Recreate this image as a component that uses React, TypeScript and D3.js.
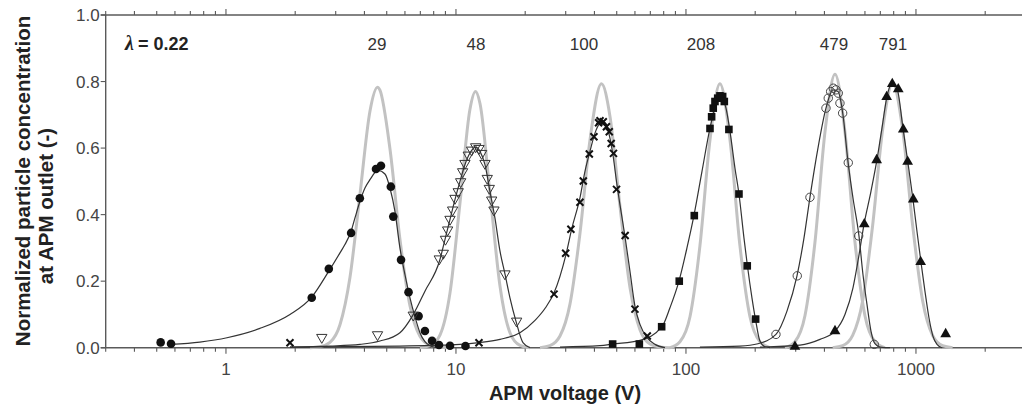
import React from 'react';
import * as d3 from 'd3';

type P = [number, number];

// ---------- axis / label data ----------
const xDomain: P = [0.3, 3000];
const yDomain: P = [0, 1];
const yTickValues = [0, 0.2, 0.4, 0.6, 0.8, 1.0];
const xTickLabelValues = [1, 10, 100, 1000];
const peakLabels = ['29', '48', '100', '208', '479', '791'];
const peakLabelVoltages = [4.535, 12.22, 36.0, 116.2, 440, 794];
const lambdaText = '= 0.22';
const xTitle = 'APM voltage (V)';
const yTitle1 = 'Normalized particle concentration';
const yTitle2 = 'at APM outlet (-)';

// ---------- measured points (voltage, normalized concentration) ----------
const s29: P[] = [[0.52,0.016],[0.577,0.012],[2.36,0.150],[2.80,0.237],[3.50,0.345],[3.82,0.449],[4.49,0.537],[4.72,0.547],[5.21,0.484],[5.34,0.394],[5.77,0.264],[6.22,0.167],[6.88,0.095],[7.33,0.050],[7.87,0.021],[8.44,0.008],[9.42,0.006],[11.0,0.005]];
const s48: P[] = [[2.61,0.031],[4.56,0.039],[6.52,0.098],[8.46,0.267],[8.81,0.284],[9.00,0.326],[9.20,0.354],[9.42,0.386],[9.67,0.414],[9.90,0.449],[10.23,0.469],[10.48,0.499],[10.69,0.529],[10.94,0.554],[11.31,0.579],[11.70,0.594],[12.18,0.604],[12.59,0.599],[12.93,0.584],[13.37,0.554],[13.68,0.509],[13.96,0.479],[14.30,0.444],[14.63,0.414],[16.33,0.222],[18.36,0.080]];
const s100: P[] = [[1.898,0.015],[12.59,0.015],[26.7,0.161],[29.99,0.284],[31.6,0.356],[34.6,0.437],[35.78,0.501],[38.0,0.582],[39.8,0.634],[41.7,0.676],[42.3,0.682],[43.7,0.679],[45.1,0.664],[46.4,0.649],[47.3,0.614],[48.4,0.584],[49.9,0.476],[54.4,0.337],[60.0,0.116],[67.9,0.035]];
const s208: P[] = [[48.0,0.011],[62.7,0.011],[78.4,0.063],[93.5,0.20],[108.7,0.397],[127.2,0.659],[129.3,0.694],[131.4,0.72],[133.7,0.74],[137.4,0.75],[140.5,0.757],[144.4,0.755],[146.8,0.74],[153.7,0.656],[170.0,0.462],[184.7,0.246],[200.9,0.086]];
const s479: P[] = [[246.2,0.040],[304.7,0.216],[346.0,0.452],[406.2,0.72],[415.6,0.75],[425.7,0.77],[437.0,0.78],[449.0,0.775],[459.5,0.765],[467.2,0.735],[480.0,0.705],[507.8,0.556],[563.5,0.336],[658.7,0.010]];
const s791: P[] = [[297.8,0.003],[444.6,0.050],[596.1,0.371],[674.8,0.564],[745.8,0.754],[788.9,0.793],[837.5,0.777],[880.7,0.656],[920.2,0.559],[973.4,0.446],[1048,0.258],[1346,0.041]];

// ---------- fitted curves (black) ----------
const fit29: P[] = [[0.577,0.010],[0.770,0.017],[1.01,0.030],[1.405,0.058],[1.898,0.100],[2.36,0.152],[2.80,0.230],[3.131,0.285],[3.29,0.31],[3.50,0.35],[3.638,0.39],[3.825,0.44],[4.021,0.48],[4.227,0.505],[4.58,0.533],[4.912,0.522],[5.164,0.48],[5.429,0.41],[5.707,0.30],[6.000,0.22],[6.310,0.15],[6.633,0.093],[6.973,0.045],[7.331,0.018],[7.709,0.006],[8.268,0]];
const fit48: P[] = [[1.898,0.002],[2.833,0.005],[3.825,0.01],[4.672,0.02],[5.707,0.045],[6.50,0.098],[7.331,0.17],[8.520,0.265],[8.957,0.325],[9.417,0.385],[9.900,0.445],[10.41,0.50],[10.94,0.55],[11.50,0.585],[12.21,0.603],[12.72,0.59],[13.37,0.55],[14.05,0.47],[14.77,0.39],[15.54,0.29],[16.33,0.222],[17.17,0.15],[18.23,0.08],[19.56,0.015],[20.97,0]];
const fit100: P[] = [[1.898,0.002],[5.707,0.005],[10.41,0.01],[12.59,0.015],[15.54,0.025],[18.98,0.045],[22.06,0.082],[24.5,0.12],[26.7,0.165],[30.08,0.28],[31.94,0.36],[34.60,0.45],[36.38,0.53],[38.25,0.59],[40.21,0.645],[42.27,0.675],[43.56,0.68],[45.34,0.665],[46.72,0.63],[48.14,0.58],[50.11,0.49],[51.64,0.43],[54.29,0.335],[57.07,0.23],[60.0,0.125],[63.10,0.07],[67.68,0.03],[73.31,0.01],[81.05,0]];
const fit208: P[] = [[28.33,0.002],[42.27,0.006],[48.14,0.011],[63.10,0.022],[78.65,0.063],[85.20,0.12],[93.23,0.20],[101.0,0.30],[108.3,0.397],[117.4,0.53],[127.2,0.66],[135.0,0.73],[142.0,0.752],[149.3,0.72],[155.4,0.65],[163.3,0.54],[170.0,0.462],[178.7,0.33],[184.7,0.25],[193.6,0.15],[201.2,0.08],[209.7,0.02],[220.5,0.003],[231.9,0]];
const fit479: P[] = [[115.0,0.002],[171.7,0.005],[205.6,0.012],[246.2,0.04],[274.9,0.11],[303.9,0.216],[326.0,0.33],[346.0,0.452],[374.9,0.60],[406.2,0.72],[435.6,0.775],[458.1,0.77],[481.6,0.70],[506.2,0.56],[532.3,0.45],[565.2,0.336],[588.3,0.22],[612.4,0.13],[637.4,0.05],[663.3,0.012],[697.3,0.002],[770.9,0]];
const fit791: P[] = [[209.7,0.002],[313.1,0.008],[382.5,0.025],[444.6,0.05],[491.3,0.10],[532.3,0.18],[559.5,0.26],[594.2,0.37],[637.4,0.47],[676.8,0.565],[711.6,0.66],[747.9,0.755],[786.5,0.792],[826.7,0.78],[878.1,0.66],[923.1,0.555],[970.5,0.446],[1010,0.35],[1051,0.258],[1094,0.17],[1139,0.09],[1185,0.035],[1234,0.01],[1297,0]];

// ---------- theoretical curves (grey) ----------
const th29: P[] = [[2.319,0],[2.563,0.003],[2.833,0.016],[3.131,0.069],[3.460,0.211],[3.825,0.461],[4.227,0.711],[4.56,0.783],[4.672,0.774],[5.164,0.598],[5.707,0.326],[6.310,0.126],[6.973,0.034],[7.709,0.007],[8.520,0.001],[9.417,0]];
const th48: P[] = [[6.973,0],[7.709,0.006],[8.520,0.038],[9.417,0.164],[10.41,0.435],[11.50,0.716],[12.16,0.770],[12.72,0.734],[14.05,0.467],[15.54,0.185],[17.17,0.045],[18.98,0.007],[20.97,0]];
const th100: P[] = [[23.19,0],[25.63,0.006],[28.33,0.035],[31.31,0.131],[34.60,0.343],[38.25,0.624],[42.92,0.793],[46.72,0.696],[51.64,0.426],[57.07,0.182],[63.10,0.054],[69.73,0.011],[77.09,0.002],[85.20,0]];
const th208: P[] = [[85.20,0],[94.17,0.018],[104.1,0.093],[115.0,0.306],[127.2,0.625],[140.5,0.793],[155.4,0.625],[171.7,0.306],[189.8,0.093],[209.7,0.018],[231.9,0]];
const th479: P[] = [[269.4,0],[297.8,0.018],[329.1,0.096],[363.8,0.317],[402.1,0.648],[444.6,0.822],[491.3,0.648],[543.1,0.317],[600.2,0.096],[663.3,0.018],[733.2,0]];
const th791: P[] = [[434.4,0],[480.2,0.006],[530.6,0.037],[586.5,0.141],[648.2,0.368],[716.4,0.656],[791.8,0.795],[875.1,0.656],[967.2,0.368],[1069,0.141],[1181,0.037],[1306,0.006],[1443,0]];

const theoryCurves = [th29, th48, th100, th208, th479, th791];
const fitCurves = [fit29, fit48, fit100, fit208, fit479, fit791];

const W = 1022;
const H = 408;
const PLOT = { left: 105.7, right: 1025.7, top: 15, bottom: 347.7 };
const AXIS = '#5a5a5a';
const FONT = '"Liberation Sans", Arial, Helvetica, sans-serif';

export default function App() {
  const x = d3.scaleLog().domain(xDomain).range([PLOT.left, PLOT.right]);
  const y = d3.scaleLinear().domain(yDomain).range([PLOT.bottom, PLOT.top]);
  const line = d3.line<P>().x(d => x(d[0])).y(d => y(d[1])).curve(d3.curveMonotoneX);
  const ticks = x.ticks().filter(t => t >= xDomain[0] && t <= xDomain[1]);
  const isMajor = (t: number) => Math.abs(Math.log10(t) - Math.round(Math.log10(t))) < 1e-9;
  const triDown = d3.symbol().type(d3.symbolTriangle).size(46)() as string;
  const triUp = d3.symbol().type(d3.symbolTriangle).size(50)() as string;

  return (
    <svg width={W} height={H} style={{ position: 'fixed', left: 0, top: 0, background: '#fff' }}
      fontFamily={FONT}>
      <rect x={0} y={0} width={W} height={H} fill="#fff" />
      {/* axes */}
      <line x1={PLOT.left - 5} x2={W} y1={y(1)} y2={y(1)} stroke={AXIS} strokeWidth={1.4} />
      <line x1={PLOT.left - 5} x2={W} y1={y(0)} y2={y(0)} stroke={AXIS} strokeWidth={1.4} />
      <line x1={PLOT.left} x2={PLOT.left} y1={y(1)} y2={y(0)} stroke={AXIS} strokeWidth={1.4} />
      {ticks.map((t, i) => (
        <g key={'xt' + i}>
          <line x1={x(t)} x2={x(t)} y1={y(0)} y2={y(0) + (isMajor(t) ? 6 : 4)} stroke={AXIS} strokeWidth={1.1} />
          <line x1={x(t)} x2={x(t)} y1={y(1)} y2={y(1) - (isMajor(t) ? 6 : 4)} stroke={AXIS} strokeWidth={1.1} />
        </g>
      ))}
      {xTickLabelValues.map((t, i) => (
        <text key={'xl' + i} x={x(t)} y={375} textAnchor="middle" fontSize={17} fill="#444">{String(t)}</text>
      ))}
      {yTickValues.map((t, i) => (
        <g key={'yt' + i}>
          <line x1={PLOT.left - 5} x2={PLOT.left} y1={y(t)} y2={y(t)} stroke={AXIS} strokeWidth={1.1} />
          <text x={PLOT.left - 6} y={y(t) + 6} textAnchor="end" fontSize={17} fill="#444">{t.toFixed(1)}</text>
        </g>
      ))}
      {/* titles */}
      <text x={565} y={400} textAnchor="middle" fontSize={20} fontWeight="bold" fill="#222">{xTitle}</text>
      <text transform="translate(29.5,181) rotate(-90)" textAnchor="middle" fontSize={20.5} fontWeight="bold" fill="#222">{yTitle1}</text>
      <text transform="translate(53,206) rotate(-90)" textAnchor="middle" fontSize={20.5} fontWeight="bold" fill="#222">{yTitle2}</text>
      {/* annotations */}
      <text x={125} y={50} fontSize={18} fontWeight="bold" fill="#222">
        <tspan fontFamily='"Liberation Serif", "DejaVu Serif", serif' fontStyle="italic" fontSize={20}>λ</tspan>
        <tspan dx={4}>{lambdaText}</tspan>
      </text>
      {peakLabels.map((l, i) => (
        <text key={'pl' + i} x={x(peakLabelVoltages[i])} y={50} textAnchor="middle" fontSize={17} fill="#333">{l}</text>
      ))}
      {/* theoretical curves */}
      {theoryCurves.map((c, i) => (
        <path key={'th' + i} d={line(c) || ''} fill="none" stroke="#c2c2c2" strokeWidth={3} />
      ))}
      {/* fitted curves */}
      {fitCurves.map((c, i) => (
        <path key={'fit' + i} d={line(c) || ''} fill="none" stroke="#333" strokeWidth={1.2} />
      ))}
      {/* markers */}
      {s29.map((d, i) => <circle key={'a' + i} cx={x(d[0])} cy={y(d[1])} r={4.3} fill="#111" />)}
      {s48.map((d, i) => (
        <path key={'b' + i} d={triDown} transform={`translate(${x(d[0])},${y(d[1])}) rotate(180)`} fill="none" stroke="#333" strokeWidth={1} />
      ))}
      {s100.map((d, i) => (
        <path key={'c' + i} d="M-3.5,-3.5L3.5,3.5M-3.5,3.5L3.5,-3.5" transform={`translate(${x(d[0])},${y(d[1])})`} stroke="#111" strokeWidth={2} fill="none" />
      ))}
      {s208.map((d, i) => <rect key={'d' + i} x={x(d[0]) - 3.8} y={y(d[1]) - 3.8} width={7.6} height={7.6} fill="#111" />)}
      {s479.map((d, i) => <circle key={'e' + i} cx={x(d[0])} cy={y(d[1])} r={4.2} fill="none" stroke="#444" strokeWidth={1} />)}
      {s791.map((d, i) => (
        <path key={'f' + i} d={triUp} transform={`translate(${x(d[0])},${y(d[1])})`} fill="#111" />
      ))}
    </svg>
  );
}
